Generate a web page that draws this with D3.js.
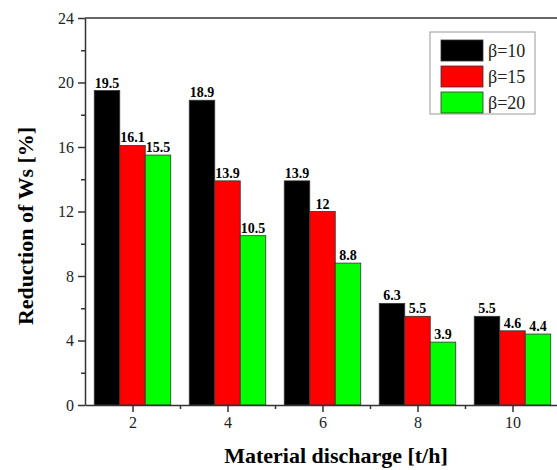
<!DOCTYPE html>
<html><head><meta charset="utf-8">
<script src="https://cdn.jsdelivr.net/npm/d3@7"></script>
<style>body{margin:0;background:#fff}svg{display:block}svg text{font-family:"Liberation Serif","Times New Roman","DejaVu Serif",serif}</style>
</head><body>
<svg id="c" width="557" height="470"></svg>
<script>
const categories = [2, 4, 6, 8, 10];
const seriesNames = ["β=10", "β=15", "β=20"];
const beta10 = [19.5, 18.9, 13.9, 6.3, 5.5];
const beta15 = [16.1, 13.9, 12, 5.5, 4.6];
const beta20 = [15.5, 10.5, 8.8, 3.9, 4.4];
const yTicks = [0, 4, 8, 12, 16, 20, 24];
const colors = ["#000000", "#ff0000", "#00ff00"];
const series = [beta10, beta15, beta20];

const svg = d3.select("#c");
const x = d3.scaleLinear().domain([1, 11]).range([85, 560]);
const y = d3.scaleLinear().domain([0, 24]).range([405, 18]);
const groupW = 76.5, barW = groupW / 3;

// bars
series.forEach((vals, si) => {
  const g = svg.append("g");
  g.selectAll("rect").data(vals).enter().append("rect")
    .attr("x", (d, i) => x(categories[i]) - groupW / 2 + si * barW)
    .attr("y", d => y(d))
    .attr("width", barW)
    .attr("height", d => y(0) - y(d))
    .attr("fill", colors[si])
    .attr("stroke", "#333").attr("stroke-width", 0.8);
  g.selectAll("text").data(vals).enter().append("text")
    .attr("x", (d, i) => x(categories[i]) - groupW / 2 + si * barW + barW / 2)
    .attr("y", d => y(d) - 3)
    .attr("text-anchor", "middle")
    .style("font-weight", "bold").style("font-size", "14px")
    .attr("fill", "#000")
    .text(d => d);
});

// axes
const axisColor = "#333";
const yAxis = d3.axisLeft(y).tickValues(yTicks).tickSize(7).tickSizeOuter(0).tickPadding(4);
const ya = svg.append("g").attr("transform", "translate(85,0)").call(yAxis);
ya.selectAll("text").style("font-size", "16px").attr("fill", "#222");
const yMinor = d3.axisLeft(y).tickValues([2, 6, 10, 14, 18, 22]).tickSize(4).tickFormat("");
svg.append("g").attr("transform", "translate(85,0)").call(yMinor).select(".domain").remove();

const xAxis = d3.axisBottom(x).tickValues(categories).tickSize(7).tickSizeOuter(0).tickPadding(5);
const xa = svg.append("g").attr("transform", "translate(0,405)").call(xAxis);
xa.selectAll("text").style("font-size", "16px").attr("fill", "#222");
const xMinor = d3.axisBottom(x).tickValues([3, 5, 7, 9]).tickSize(4).tickFormat("");
svg.append("g").attr("transform", "translate(0,405)").call(xMinor).select(".domain").remove();
svg.selectAll(".domain, .tick line").attr("stroke", axisColor).attr("stroke-width", 1.5);

// top frame line
svg.append("line").attr("x1", 85).attr("x2", 560).attr("y1", y(24)).attr("y2", y(24))
  .attr("stroke", axisColor).attr("stroke-width", 1.5);

// axis titles
svg.append("text").attr("x", 336).attr("y", 463).attr("text-anchor", "middle")
  .style("font-weight", "bold").style("font-size", "22px")
  .text("Material discharge [t/h]");
svg.append("text").attr("transform", "translate(33,226) rotate(-90)").attr("text-anchor", "middle")
  .style("font-weight", "bold").style("font-size", "22px")
  .text("Reduction of Ws [%]");

// legend
const lg = svg.append("g");
lg.append("rect").attr("x", 430).attr("y", 32).attr("width", 105).attr("height", 82)
  .attr("fill", "#fff").attr("stroke", "#999").attr("stroke-width", 1);
seriesNames.forEach((n, i) => {
  lg.append("rect").attr("x", 441).attr("y", 40 + i * 26).attr("width", 42).attr("height", 21)
    .attr("fill", colors[i]).attr("stroke", "#333").attr("stroke-width", 0.8);
  lg.append("text").attr("x", 488).attr("y", 57 + i * 26)
    .style("font-size", "18px").attr("fill", "#222").text(n);
});
</script>
</body></html>
